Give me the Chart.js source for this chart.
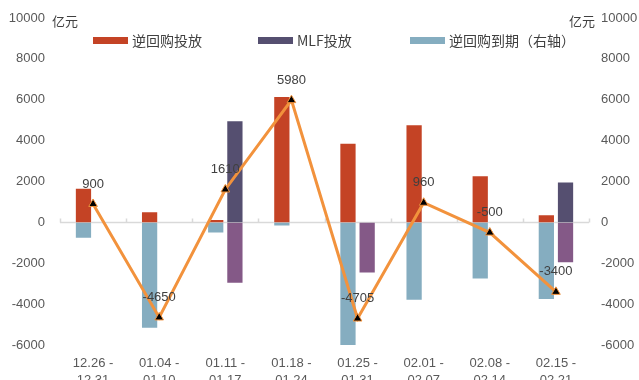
<!DOCTYPE html>
<html>
<head>
<meta charset="utf-8">
<script src="https://cdn.jsdelivr.net/npm/chart.js@4.4.1/dist/chart.umd.min.js"></script>
<style>
  html, body { margin: 0; padding: 0; background: #fff; overflow: hidden; }
  #wrap { position: relative; width: 639px; height: 389px; }
  .unit { position: absolute; top: 14px; font: 13px/13px 'Noto Sans CJK SC', sans-serif; color: #404040; }
  .lg { position: absolute; top: 33px; height: 14px; display: flex; align-items: center;
        font: 14px/14px 'Noto Sans CJK SC', sans-serif; color: #404040; white-space: nowrap; }
  .lg i { display: inline-block; width: 35px; height: 7px; margin-right: 4px; }
</style>
</head>
<body>
<div id="wrap">
  <canvas id="flows" width="639" height="389"></canvas>
  <span class="unit" style="left:52px">亿元</span>
  <span class="unit" style="left:569px">亿元</span>
  <div class="lg" style="left:93px"><i style="background:#C44325"></i>逆回购投放</div>
  <div class="lg" style="left:258px"><i style="background:#554F70"></i>MLF投放</div>
  <div class="lg" style="left:410px"><i style="background:#85ADC0"></i>逆回购到期（右轴）</div>
</div>
<script>
/* ---- weekly open-market data (亿元) ---- */
const weeks    = [['12.26 -', '12.31'], ['01.04 -', '01.10'], ['01.11 -', '01.17'], ['01.18 -', '01.24'],
                  ['01.25 -', '01.31'], ['02.01 -', '02.07'], ['02.08 -', '02.14'], ['02.15 -', '02.21']];
const repoIn   = [1700, 550, 160, 6180, 3900, 4800, 2300, 400];
const mlfIn    = [null, null, 5000, null, null, null, null, 2000];
const repoOut  = [-800, -5200, -550, -200, -6105, -3840, -2800, -3800];
const mlfOut   = [null, null, -3000, null, -2500, null, null, -2000];
const netFlow  = [900, -4650, 1610, 5980, -4705, 960, -500, -3400];
const yTicks   = { min: -6000, max: 10000, step: 2000 };

const COL = { repoIn: '#C44325', mlfIn: '#554F70', repoOut: '#85ADC0', mlfOut: '#845987', net: '#F2923C' };
const tickColor = '#595959';

Chart.defaults.font.family = "'Liberation Sans', 'Noto Sans CJK SC', sans-serif";
Chart.defaults.font.size = 13;

// zero line with small upward ticks at category borders
const zeroAxis = {
  id: 'zeroAxis',
  beforeDatasetsDraw(chart) {
    const { ctx, chartArea: { left, right }, scales: { y } } = chart;
    const y0 = Math.round(y.getPixelForValue(0)) + 0.5;
    const step = (right - left) / weeks.length;
    ctx.save();
    ctx.strokeStyle = '#d9d9d9';
    ctx.lineWidth = 1.5;
    ctx.beginPath();
    ctx.moveTo(left, y0); ctx.lineTo(right, y0);
    for (let i = 0; i <= weeks.length; i++) {
      const px = Math.round(left + i * step) + 0.5;
      ctx.moveTo(px, y0); ctx.lineTo(px, y0 - 4);
    }
    ctx.stroke();
    ctx.restore();
  }
};

// value labels above the net line points
const netLabels = {
  id: 'netLabels',
  afterDatasetsDraw(chart) {
    const { ctx } = chart;
    const meta = chart.getDatasetMeta(0);
    ctx.save();
    ctx.font = "13px 'Liberation Sans', sans-serif";
    ctx.fillStyle = '#404040';
    ctx.textAlign = 'center';
    ctx.textBaseline = 'middle';
    meta.data.forEach((pt, i) => ctx.fillText(String(netFlow[i]), pt.x, pt.y - 20));
    ctx.restore();
  }
};

const bar = (data, color, stack, yAxisID = 'y') => ({
  type: 'bar', data, backgroundColor: color, stack, yAxisID, order: 1,
  borderColor: 'rgba(255,255,255,0.5)', borderWidth: 1,
  barPercentage: 0.9, categoryPercentage: 0.58
});

// fixed axis widths so both value axes line up the same way
const yScale = (position, padding, width) => ({
  position, stacked: true,
  min: yTicks.min, max: yTicks.max,
  grid: { display: false, drawTicks: false }, border: { display: false },
  ticks: { stepSize: yTicks.step, color: tickColor, padding, callback: v => String(v) },
  afterFit(s) { s.width = width; s.paddingTop = 0; s.paddingBottom = 0; }
});

new Chart(document.getElementById('flows'), {
  data: {
    labels: weeks,
    datasets: [
      {
        type: 'line', data: netFlow, order: 0,
        borderColor: COL.net, borderWidth: 3,
        pointStyle: 'triangle', pointRadius: 5,
        pointBackgroundColor: '#000', pointBorderColor: COL.net, pointBorderWidth: 1
      },
      bar(repoIn, COL.repoIn, 'a'),
      bar(mlfIn, COL.mlfIn, 'b'),
      bar(repoOut, COL.repoOut, 'a', 'y2'),
      bar(mlfOut, COL.mlfOut, 'b')
    ]
  },
  options: {
    responsive: false,
    animation: false,
    layout: { padding: { left: 8, right: 1, top: 18, bottom: 0 } },
    plugins: { legend: { display: false }, tooltip: { enabled: false } },
    scales: {
      x: {
        grid: { display: false, drawTicks: false }, border: { display: false },
        ticks: { color: tickColor, padding: 10, maxRotation: 0, autoSkip: false, font: { lineHeight: 1.3 } },
        afterFit(s) { s.height = 44; s.paddingLeft = 0; s.paddingRight = 0; }
      },
      y: yScale('left', 15, 52),
      y2: yScale('right', 12, 49)
    }
  },
  plugins: [zeroAxis, netLabels]
});
</script>
</body>
</html>
